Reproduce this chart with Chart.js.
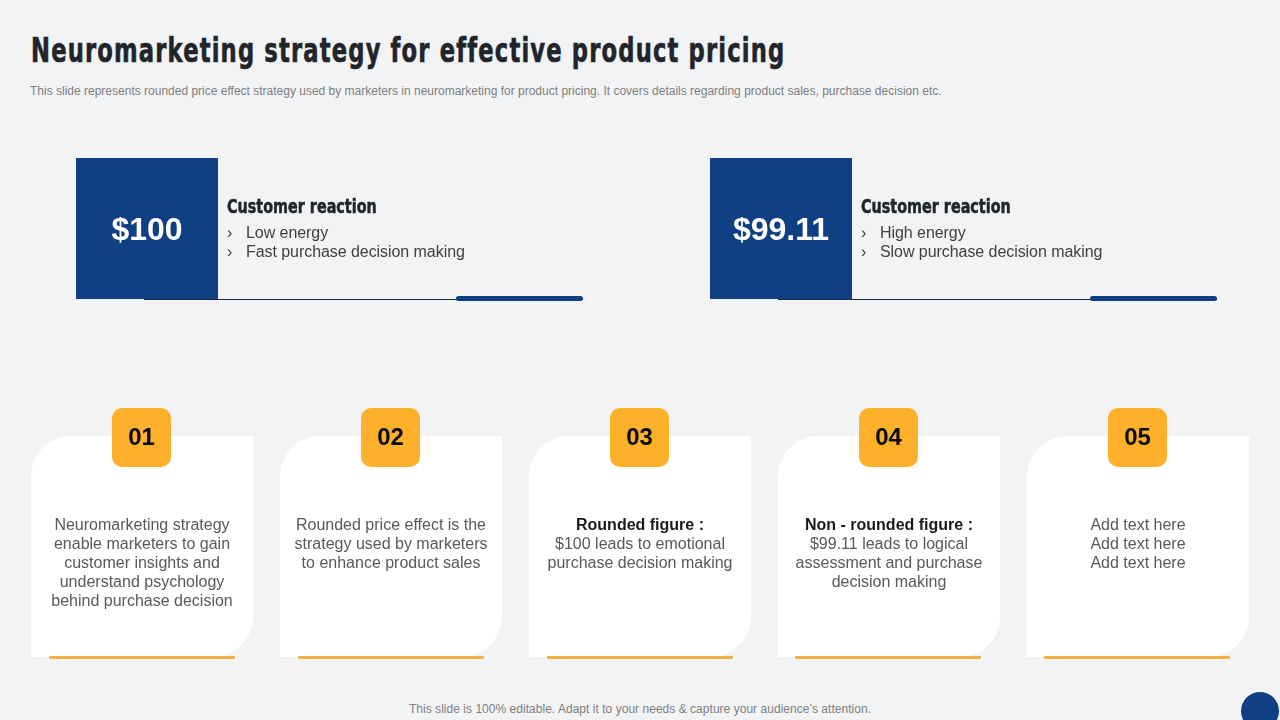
<!DOCTYPE html>
<html>
<head>
<meta charset="utf-8">
<script src="https://cdn.jsdelivr.net/npm/chart.js@4"></script>
<style>
html, body { margin: 0; padding: 0; }
body { width: 1280px; height: 720px; overflow: hidden; position: relative; background: #f2f3f5; font-family: "Liberation Sans", Arial, sans-serif; }
canvas { position: absolute; }
.abs { position: absolute; white-space: nowrap; }
#title { left: 31px; top: 31px; font: bold 33px/40px "DejaVu Sans Condensed", sans-serif; color: #212529; letter-spacing: 1.5px; transform: scaleX(0.764); transform-origin: left top; -webkit-text-stroke: 0.6px #212529; }
#subtitle { left: 30px; top: 84px; font-size: 12px; line-height: 15px; color: #7f7f7f; }
#footer { left: 0; width: 1280px; text-align: center; top: 702px; font-size: 12px; line-height: 15px; color: #7f7f7f; letter-spacing: 0.03px; }
.head { font: bold 19px/22px "DejaVu Sans Condensed", sans-serif; color: #212529; top: 195px; transform: scaleX(0.84); transform-origin: left top; -webkit-text-stroke: 0.5px #212529; }
.bullets { top: 223px; font-size: 16px; line-height: 19px; color: #404040; letter-spacing: -0.06px; }
.bullets span { display: inline-block; width: 19px; }
.rule { height: 1px; top: 299px; width: 439px; background: #1d2a3f; }
.tab { height: 5px; top: 296px; width: 127px; background: #104084; border-radius: 3px; }
.cardtext { top: 515px; width: 200px; text-align: center; font-size: 16px; line-height: 19px; color: #595959; }
.cardtext b { color: #1a1a1a; }
.accent { top: 656px; width: 186px; height: 3px; background: #f2b243; border-radius: 1px; }
#dot { left: 1241px; top: 692px; width: 38px; height: 38px; border-radius: 50%; background: #104084; }
</style>
</head>
<body>
<div class="abs" id="title"></div>
<div class="abs" id="subtitle"></div>
<canvas id="pricesChart" width="1268" height="141" style="left:-170px;top:158px"></canvas>
<canvas id="cardsChart" width="1246" height="270" style="left:17px;top:400px"></canvas>
<div class="abs" id="footer"></div>
<div class="abs" id="dot"></div>
<script>
const titleText = 'Neuromarketing strategy for effective product pricing';
const subtitleText = 'This slide represents rounded price effect strategy used by marketers in neuromarketing for product pricing. It covers details regarding product sales, purchase decision etc.';
const footerText = 'This slide is 100% editable. Adapt it to your needs & capture your audience’s attention.';

const prices = ['$100', '$99.11'];
const priceFill = [1, 1];
const reactionHead = 'Customer reaction';
const reactions = [
    ['Low energy', 'Fast purchase decision making'],
    ['High energy', 'Slow purchase decision making']
];

const cardNumbers = ['01', '02', '03', '04', '05'];
const cardFill = [1, 1, 1, 1, 1];
const cardHeads = ['', '', 'Rounded figure :', 'Non - rounded figure :', ''];
const cardLines = [
    ['Neuromarketing strategy', 'enable marketers to gain', 'customer insights and', 'understand psychology', 'behind purchase decision'],
    ['Rounded price effect is the', 'strategy used by marketers', 'to enhance product sales'],
    ['$100 leads to emotional', 'purchase decision making'],
    ['$99.11 leads to logical', 'assessment and purchase', 'decision making'],
    ['Add text here', 'Add text here', 'Add text here']
];

function addDiv(cls, left, html) {
    const d = document.createElement('div');
    d.className = 'abs ' + cls;
    d.style.left = left + 'px';
    d.innerHTML = html;
    document.body.appendChild(d);
}

document.getElementById('title').textContent = titleText;
document.getElementById('subtitle').textContent = subtitleText;
document.getElementById('footer').textContent = footerText;

// text next to the two price boxes
[227, 861].forEach((left, i) => {
    addDiv('head', left, reactionHead);
    addDiv('bullets', left, reactions[i].map(t => '<span>›</span>' + t).join('<br>'));
    addDiv('rule', left - 83, '');
    addDiv('tab', left + 229, '');
});

// text inside the five cards
cardNumbers.forEach((n, i) => {
    const head = cardHeads[i] ? '<b>' + cardHeads[i] + '</b><br>' : '';
    addDiv('cardtext', 42 + i * 249, head + cardLines[i].join('<br>'));
    addDiv('accent', 49 + i * 248.75, '');
});

const hiddenScales = {
    x: { display: false },
    y: { display: false, min: 0, max: 1 }
};

// ========== Price boxes ==========
new Chart(document.getElementById('pricesChart'), {
    type: 'bar',
    data: {
        labels: prices,
        datasets: [{ data: priceFill, backgroundColor: '#104084', barThickness: 142, borderSkipped: false, inflateAmount: 0 }]
    },
    options: {
        responsive: false,
        animation: false,
        devicePixelRatio: 1,
        scales: hiddenScales,
        plugins: { legend: { display: false }, tooltip: { enabled: false } }
    },
    plugins: [{
        id: 'priceLabels',
        afterDatasetsDraw(chart) {
            const ctx = chart.ctx;
            ctx.save();
            ctx.fillStyle = '#ffffff';
            ctx.font = 'bold 32px "Liberation Sans"';
            ctx.textAlign = 'center';
            ctx.textBaseline = 'middle';
            chart.getDatasetMeta(0).data.forEach((bar, i) => {
                ctx.fillText(prices[i], bar.x, (bar.y + bar.base) / 2 + 3);
            });
            ctx.restore();
        }
    }]
});

// ========== Numbered cards ==========
new Chart(document.getElementById('cardsChart'), {
    type: 'bar',
    data: {
        labels: cardNumbers,
        datasets: [{
            data: cardFill,
            backgroundColor: '#ffffff',
            barThickness: 222,
            borderSkipped: false,
            inflateAmount: 0,
            borderRadius: { topLeft: 40, topRight: 0, bottomLeft: 0, bottomRight: 40 }
        }]
    },
    options: {
        responsive: false,
        animation: false,
        devicePixelRatio: 1,
        layout: { padding: { top: 36, bottom: 13, left: 0.5, right: 0.5 } },
        scales: hiddenScales,
        plugins: { legend: { display: false }, tooltip: { enabled: false } }
    },
    plugins: [{
        id: 'cardBadges',
        afterDatasetsDraw(chart) {
            const ctx = chart.ctx;
            ctx.save();
            ctx.textAlign = 'center';
            ctx.textBaseline = 'middle';
            ctx.font = 'bold 24px "Liberation Sans"';
            chart.getDatasetMeta(0).data.forEach((bar, i) => {
                ctx.fillStyle = '#fdb12a';
                ctx.beginPath();
                ctx.roundRect(bar.x - 30, bar.y - 28, 59, 59, 10);
                ctx.fill();
                ctx.fillStyle = '#0a0a0a';
                ctx.fillText(cardNumbers[i], bar.x - 0.5, bar.y + 2);
            });
            ctx.restore();
        }
    }]
});
</script>
</body>
</html>
